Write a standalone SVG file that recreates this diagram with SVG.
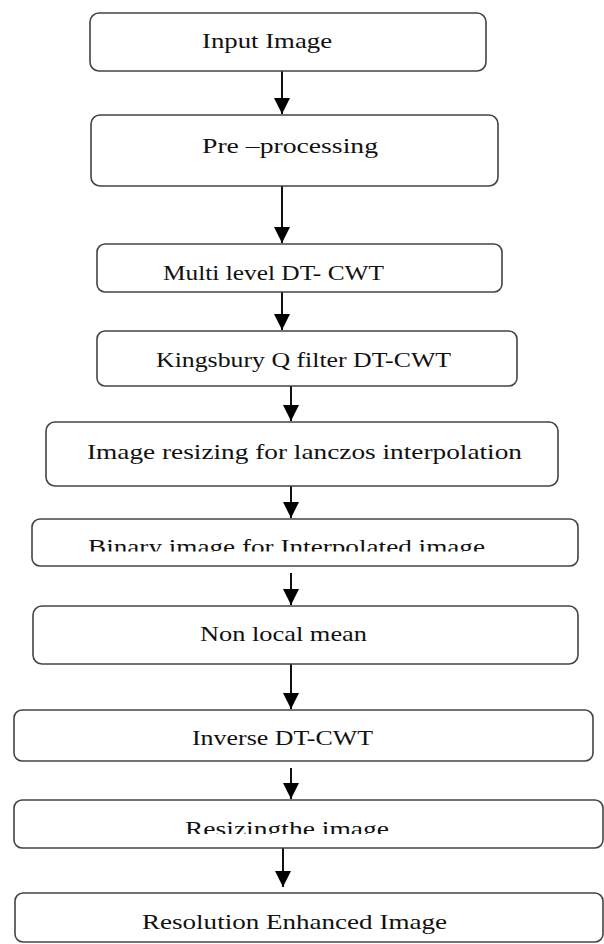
<svg xmlns="http://www.w3.org/2000/svg" width="604" height="944" viewBox="0 0 604 944">
<style>
.box{fill:#fff;stroke:#444;stroke-width:1.6}
.t{font-family:"Liberation Serif","Times New Roman",serif;font-size:22px;fill:#111;text-anchor:middle}
.c{stroke:#111;stroke-width:2;fill:none;marker-end:url(#ah)}
</style>
<defs>
<marker id="ah" markerUnits="userSpaceOnUse" markerWidth="16" markerHeight="16" refX="16" refY="8" orient="auto">
<path d="M0,0 L16,8 L0,16 Z" fill="#000"/>
</marker>
<clipPath id="clip6"><rect x="0" y="519" width="604" height="32.5"/></clipPath>
<clipPath id="clip9"><rect x="0" y="800" width="604" height="34"/></clipPath>
</defs>
<rect width="604" height="944" fill="#fff"/>
<g id="connectors">
<path class="c" d="M282,71 V114"/>
<path class="c" d="M282,186 V243"/>
<path class="c" d="M282,292 V330"/>
<path class="c" d="M291,386 V421"/>
<path class="c" d="M291,486 V518"/>
<path class="c" d="M291,573 V605"/>
<path class="c" d="M291,663 V709"/>
<path class="c" d="M291,768 V799"/>
<path class="c" d="M283,848 V887"/>
</g>
<g id="n1"><rect class="box" x="90" y="13" width="396" height="58" rx="9"/><text class="t" x="267" y="48" textLength="130" lengthAdjust="spacingAndGlyphs">Input Image</text></g>
<g id="n2"><rect class="box" x="91" y="115" width="407" height="71" rx="9"/><text class="t" x="290" y="153" textLength="176" lengthAdjust="spacingAndGlyphs">Pre –processing</text></g>
<g id="n3"><rect class="box" x="97" y="244" width="405" height="48" rx="8"/><text class="t" x="273.5" y="280" textLength="221" lengthAdjust="spacingAndGlyphs">Multi level DT- CWT</text></g>
<g id="n4"><rect class="box" x="97" y="331" width="420" height="55" rx="8"/><text class="t" x="303.5" y="367" textLength="295" lengthAdjust="spacingAndGlyphs">Kingsbury Q filter DT-CWT</text></g>
<g id="n5"><rect class="box" x="46" y="422" width="512" height="64" rx="9"/><text class="t" x="304.5" y="459" textLength="435" lengthAdjust="spacingAndGlyphs">Image resizing for lanczos interpolation</text></g>
<g id="n6"><rect class="box" x="32" y="519" width="546" height="47" rx="8"/><text class="t" x="286.5" y="553.5" textLength="397" lengthAdjust="spacingAndGlyphs" clip-path="url(#clip6)">Binary image for Interpolated image</text></g>
<g id="n7"><rect class="box" x="33" y="606" width="545" height="58" rx="9"/><text class="t" x="283.5" y="641" textLength="167" lengthAdjust="spacingAndGlyphs">Non local mean</text></g>
<g id="n8"><rect class="box" x="14" y="710" width="579" height="51" rx="8"/><text class="t" x="282.5" y="745" textLength="181" lengthAdjust="spacingAndGlyphs">Inverse DT-CWT</text></g>
<g id="n9"><rect class="box" x="14" y="800" width="589" height="48" rx="8"/><text class="t" x="287" y="836" textLength="204" lengthAdjust="spacingAndGlyphs" clip-path="url(#clip9)">Resizingthe image</text></g>
<g id="n10"><rect class="box" x="15" y="893" width="588" height="49" rx="8"/><text class="t" x="294.5" y="929" textLength="305" lengthAdjust="spacingAndGlyphs">Resolution Enhanced Image</text></g>
</svg>
